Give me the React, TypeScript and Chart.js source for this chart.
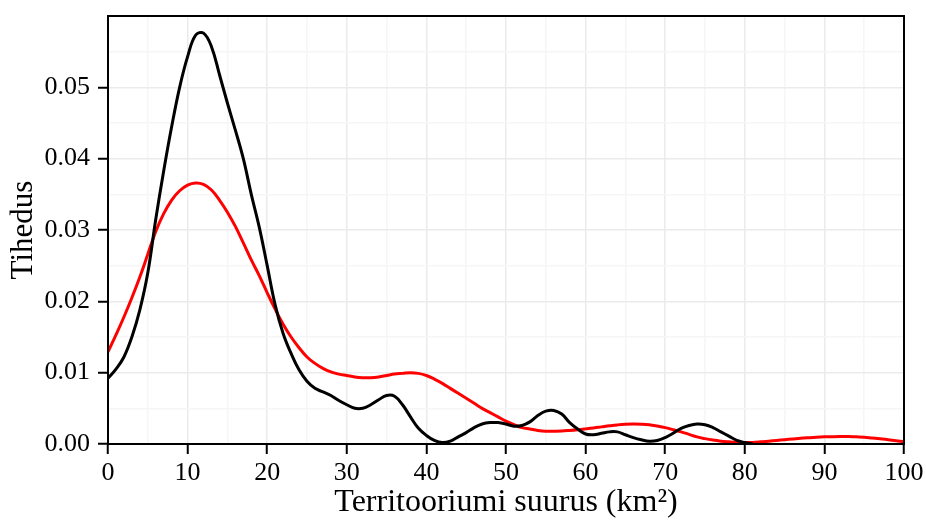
import React, { useEffect, useRef } from "react";
import { Chart, registerables } from "chart.js";

Chart.register(...registerables);

const xGrid = [
  0, 1, 2, 3, 4, 5, 6, 7, 8, 9, 10, 11, 12, 13, 14, 15, 16, 17, 18, 19, 20,
  21, 22, 23, 24, 25, 26, 27, 28, 29, 30, 31, 32, 33, 34, 35, 36, 37, 38, 39, 40,
  41, 42, 43, 44, 45, 46, 47, 48, 49, 50, 51, 52, 53, 54, 55, 56, 57, 58, 59, 60,
  61, 62, 63, 64, 65, 66, 67, 68, 69, 70, 71, 72, 73, 74, 75, 76, 77, 78, 79, 80,
  81, 82, 83, 84, 85, 86, 87, 88, 89, 90, 91, 92, 93, 94, 95, 96, 97, 98, 99, 100,
];

// Black density curve (x = 0 .. 81)
const blackDensity = [
  0.0092, 0.0105, 0.0122, 0.0150, 0.0188, 0.0240, 0.0315, 0.0383, 0.0445, 0.0500,
  0.0543, 0.0573, 0.0576, 0.0557, 0.0518, 0.0478, 0.0440, 0.0400, 0.0350, 0.0304,
  0.0250, 0.0195, 0.0155, 0.0127, 0.0104, 0.0088, 0.0078, 0.0073, 0.0068, 0.0061,
  0.0055, 0.0050, 0.0050, 0.0055, 0.0062, 0.0068, 0.0067, 0.0055, 0.0038, 0.0022,
  0.0012, 0.0005, 0.0002, 0.0004, 0.0010, 0.0016, 0.0023, 0.0028, 0.0030, 0.0030,
  0.0028, 0.0025, 0.0026, 0.0031, 0.0040, 0.0046, 0.0047, 0.0042, 0.0030, 0.0021,
  0.0014, 0.0013, 0.0015, 0.0017, 0.0017, 0.0013, 0.0009, 0.0006, 0.0004, 0.0005,
  0.0009, 0.0015, 0.0022, 0.0026, 0.0028, 0.0027, 0.0023, 0.0017, 0.0011, 0.0005,
  0.0002, 0.0000,
];

// Red density curve (x = 0 .. 100)
const redDensity = [
  0.0129, 0.0153, 0.0178, 0.0205, 0.0234, 0.0266, 0.0298, 0.0323, 0.0342, 0.0355,
  0.0363, 0.0366, 0.0364, 0.0356, 0.0342, 0.0325, 0.0305, 0.0282, 0.0258, 0.0236,
  0.0212, 0.0189, 0.0168, 0.0150, 0.0135, 0.0122, 0.0113, 0.0106, 0.0101, 0.0098,
  0.0096, 0.0094, 0.0093, 0.0093, 0.0094, 0.0096, 0.0098, 0.0099, 0.0100, 0.0099,
  0.0096, 0.0091, 0.0085, 0.0078, 0.0071, 0.0064, 0.0057, 0.0050, 0.0044, 0.0038,
  0.0032, 0.0027, 0.0023, 0.0021, 0.0019, 0.0018, 0.0018, 0.00182, 0.0019, 0.0020,
  0.00212, 0.00225, 0.0024, 0.00255, 0.00268, 0.00277, 0.0028, 0.00278, 0.0027, 0.00252,
  0.0023, 0.0020, 0.0017, 0.00135, 0.0010, 0.00075, 0.00055, 0.0004, 0.0003, 0.00022,
  0.0002, 0.00022, 0.0003, 0.0004, 0.0005, 0.0006, 0.0007, 0.0008, 0.00088, 0.00095,
  0.0010, 0.00103, 0.00105, 0.00105, 0.0010, 0.00095, 0.00085, 0.00075, 0.0006, 0.00045,
  0.0003,
];

const xTickLabels = ["0", "10", "20", "30", "40", "50", "60", "70", "80", "90", "100"];
const yTickLabels = ["0.00", "0.01", "0.02", "0.03", "0.04", "0.05"];

const xTitle = "Territooriumi suurus (km²)";
const yTitle = "Tihedus";

const FONT = "'Liberation Serif', 'Times New Roman', serif";
const MAJOR_GRID = "#ebebeb";
const MINOR_GRID = "#f6f6f6";

const boxPlugin = {
  id: "boxPlugin",
  afterDraw(chart: any) {
    const { ctx, chartArea } = chart;
    ctx.save();
    ctx.strokeStyle = "#000";
    ctx.lineWidth = 2;
    ctx.strokeRect(chartArea.left, chartArea.top, chartArea.right - chartArea.left, chartArea.bottom - chartArea.top);
    ctx.restore();
  },
};

export default function App() {
  const canvasRef = useRef<HTMLCanvasElement | null>(null);

  useEffect(() => {
    const canvas = canvasRef.current;
    if (!canvas) return;

    const blackPts = blackDensity.map((v, i) => ({ x: xGrid[i], y: v }));
    const redPts = redDensity.map((v, i) => ({ x: xGrid[i], y: v }));

    const isMajorX = (v: number) => Math.round(v) % 10 === 0;
    const isMajorY = (v: number) => Math.round(v * 200) % 2 === 0;

    const chart = new Chart(canvas, {
      type: "line",
      data: {
        datasets: [
          {
            data: blackPts,
            borderColor: "#000000",
            borderWidth: 3,
            pointRadius: 0,
            fill: false,
            tension: 0.4,
            borderJoinStyle: "round",
          },
          {
            data: redPts,
            borderColor: "#ff0000",
            borderWidth: 3,
            pointRadius: 0,
            fill: false,
            tension: 0.4,
            borderJoinStyle: "round",
          },
        ],
      },
      options: {
        animation: false,
        responsive: false,
        maintainAspectRatio: false,
        layout: { padding: { top: 16, right: 22, left: 0, bottom: 0 } },
        plugins: {
          legend: { display: false },
          tooltip: { enabled: false },
        },
        scales: {
          x: {
            type: "linear",
            min: 0,
            max: 100,
            afterFit: (scale: any) => {
              scale.height = 78;
              scale.paddingLeft = 0;
              scale.paddingRight = 0;
            },
            ticks: {
              stepSize: 5,
              autoSkip: false,
              maxRotation: 0,
              color: "#000",
              padding: 4,
              font: { family: FONT, size: 26 },
              callback: (value: any) => {
                const v = Number(value);
                if (!isMajorX(v)) return "";
                return xTickLabels[Math.round(v / 10)];
              },
            },
            grid: {
              color: (ctx: any) => (isMajorX(ctx.tick.value) ? MAJOR_GRID : MINOR_GRID),
              lineWidth: 1.5,
              tickLength: 10,
              tickColor: (ctx: any) => (isMajorX(ctx.tick.value) ? "#000" : "rgba(0,0,0,0)"),
              tickWidth: 2,
            },
            border: { display: true, color: "#000", width: 2 },
            title: {
              display: true,
              text: xTitle,
              color: "#000",
              font: { family: FONT, size: 32 },
              padding: { top: 0, bottom: 0 },
            },
          },
          y: {
            type: "linear",
            min: 0,
            max: 0.06,
            afterFit: (scale: any) => {
              scale.width = 108;
              scale.paddingTop = 0;
              scale.paddingBottom = 0;
            },
            ticks: {
              stepSize: 0.005,
              autoSkip: false,
              color: "#000",
              padding: 8,
              font: { family: FONT, size: 26 },
              callback: (value: any) => {
                const v = Number(value);
                const idx = Math.round(v * 100);
                if (!isMajorY(v) || idx >= yTickLabels.length) return "";
                return yTickLabels[idx];
              },
            },
            grid: {
              color: (ctx: any) => (isMajorY(ctx.tick.value) ? MAJOR_GRID : MINOR_GRID),
              lineWidth: 1.5,
              tickLength: 10,
              tickColor: (ctx: any) =>
                isMajorY(ctx.tick.value) && Math.round(ctx.tick.value * 100) < 6 ? "#000" : "rgba(0,0,0,0)",
              tickWidth: 2,
            },
            border: { display: true, color: "#000", width: 2 },
            title: {
              display: true,
              text: yTitle,
              color: "#000",
              font: { family: FONT, size: 31 },
              padding: { top: 5, bottom: 0 },
            },
          },
        },
      },
      plugins: [boxPlugin],
    } as any);

    return () => {
      chart.destroy();
    };
  }, []);

  return (
    <div style={{ position: "absolute", left: 0, top: 0, width: 926, height: 522, background: "#fff" }}>
      <canvas ref={canvasRef} width={926} height={522} style={{ width: 926, height: 522, display: "block" }} />
    </div>
  );
}
